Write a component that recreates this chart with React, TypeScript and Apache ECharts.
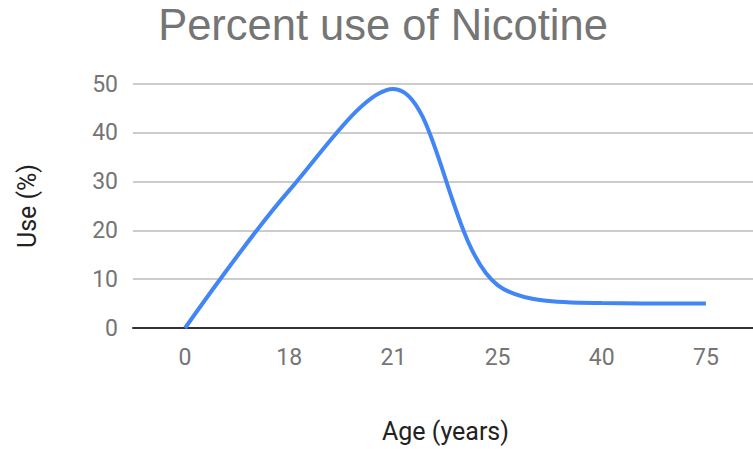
import React, { useEffect, useRef } from "react";
import * as echarts from "echarts";

const titleText = "Percent use of Nicotine";
const ages = ["0", "18", "21", "25", "40", "75"];
const usePercent = [0, 28.2, 49.0, 8.8, 5.1, 5.0];
const yMin = 0;
const yMax = 50;
const yInterval = 10;
const xName = "Age (years)";
const yName = "Use (%)";

export default function App() {
  const ref = useRef<HTMLDivElement>(null);
  useEffect(() => {
    if (!ref.current) return;
    const chart = echarts.init(ref.current, undefined, { renderer: "svg" });
    chart.setOption({
      animation: false,
      backgroundColor: "#ffffff",
      title: {
        text: titleText,
        left: 378,
        textAlign: "center",
        top: -2,
        textStyle: {
          fontFamily: "Liberation Sans, Arial, sans-serif",
          fontSize: 43.5,
          fontWeight: "normal",
          color: "#757575",
        },
      },
      grid: {
        left: 133,
        top: 84,
        width: 625,
        height: 244,
        containLabel: false,
        outerBoundsMode: "none",
      },
      xAxis: {
        type: "category",
        data: ages,
        boundaryGap: true,
        name: xName,
        nameLocation: "middle",
        nameGap: 91,
        nameTextStyle: { fontFamily: "Roboto", fontSize: 25, color: "#222222" },
        axisTick: { show: false },
        axisLine: { show: true, lineStyle: { color: "#333333", width: 2 } },
        axisLabel: { margin: 18, fontFamily: "Roboto", fontSize: 23, color: "#757575" },
        splitLine: { show: false },
      },
      yAxis: {
        type: "value",
        min: yMin,
        max: yMax,
        interval: yInterval,
        name: yName,
        nameLocation: "middle",
        nameRotate: 90,
        nameGap: 93,
        nameTextStyle: { fontFamily: "Roboto", fontSize: 25, color: "#222222" },
        axisLine: { show: false },
        axisTick: { show: false },
        axisLabel: { margin: 15, fontFamily: "Roboto", fontSize: 23, color: "#757575" },
        splitLine: { show: true, lineStyle: { color: "#cccccc", width: 2 } },
      },
      series: [
        {
          type: "line",
          data: usePercent,
          smooth: 0.35,
          symbol: "none",
          lineStyle: { color: "#4285F4", width: 4 },
          z: 3,
        },
      ],
    });
    return () => chart.dispose();
  }, []);
  return (
    <div
      ref={ref}
      style={{ position: "absolute", left: 0, top: 0, width: 753, height: 449 }}
    />
  );
}
